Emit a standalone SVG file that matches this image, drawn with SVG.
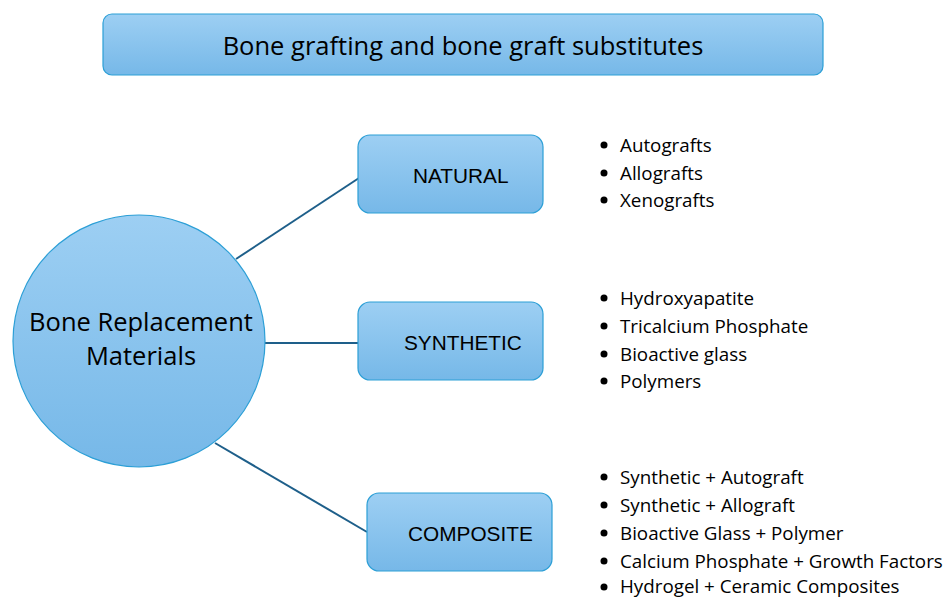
<svg xmlns="http://www.w3.org/2000/svg" width="948" height="599" viewBox="0 0 948 599">
<defs>
<linearGradient id="g" x1="0" y1="0" x2="0" y2="1">
<stop offset="0" stop-color="#9dcff3"/>
<stop offset="1" stop-color="#76b8e8"/>
</linearGradient>
<style>
.box{fill:url(#g);stroke:#2c9fd6;stroke-width:1.2}
.lbl{font-family:"Liberation Sans",Arial,sans-serif;font-size:20.8px;fill:#000}
.big{font-family:"Open Sans","Liberation Sans",sans-serif;font-size:25.5px;fill:#000;text-anchor:middle}
.li{font-family:"Open Sans","Liberation Sans",sans-serif;font-size:18.8px;fill:#000}
.conn{stroke:#1e5f8a;stroke-width:2;fill:none}
</style>
</defs>
<rect width="948" height="599" fill="#fff"/>
<g id="connectors">
<line class="conn" x1="236" y1="259" x2="359" y2="178"/>
<line class="conn" x1="265" y1="343" x2="358" y2="343"/>
<line class="conn" x1="215" y1="443" x2="367" y2="532"/>
</g>
<g id="title">
<rect class="box" x="103" y="14" width="720" height="61" rx="9"/>
<text class="big" x="463" y="55" font-size="27">Bone grafting and bone graft substitutes</text>
</g>
<g id="center">
<circle class="box" cx="139" cy="341" r="126"/>
<text class="big" x="141" y="331">Bone Replacement</text>
<text class="big" x="141" y="365">Materials</text>
</g>
<g id="natural">
<rect class="box" x="358" y="135" width="185" height="78" rx="12"/>
<text class="lbl" x="413" y="183">NATURAL</text>
</g>
<g id="synthetic">
<rect class="box" x="358" y="302" width="185" height="78" rx="12"/>
<text class="lbl" x="404" y="350">SYNTHETIC</text>
</g>
<g id="composite">
<rect class="box" x="367" y="493" width="185" height="78" rx="12"/>
<text class="lbl" x="408" y="541">COMPOSITE</text>
</g>
<g id="natural-list" class="li">
<circle cx="604" cy="145" r="3.5"/><text x="620" y="152">Autografts</text>
<circle cx="604" cy="173" r="3.5"/><text x="620" y="180">Allografts</text>
<circle cx="604" cy="200" r="3.5"/><text x="620" y="207">Xenografts</text>
</g>
<g id="synthetic-list" class="li">
<circle cx="604" cy="298" r="3.5"/><text x="620" y="305">Hydroxyapatite</text>
<circle cx="604" cy="326" r="3.5"/><text x="620" y="333">Tricalcium Phosphate</text>
<circle cx="604" cy="354" r="3.5"/><text x="620" y="361">Bioactive glass</text>
<circle cx="604" cy="381" r="3.5"/><text x="620" y="388">Polymers</text>
</g>
<g id="composite-list" class="li">
<circle cx="604" cy="477" r="3.5"/><text x="620" y="484">Synthetic + Autograft</text>
<circle cx="604" cy="505" r="3.5"/><text x="620" y="512">Synthetic + Allograft</text>
<circle cx="604" cy="533" r="3.5"/><text x="620" y="540">Bioactive Glass + Polymer</text>
<circle cx="604" cy="561" r="3.5"/><text x="620" y="568">Calcium Phosphate + Growth Factors</text>
<circle cx="604" cy="587" r="3.5"/><text x="620" y="593">Hydrogel + Ceramic Composites</text>
</g>
</svg>
